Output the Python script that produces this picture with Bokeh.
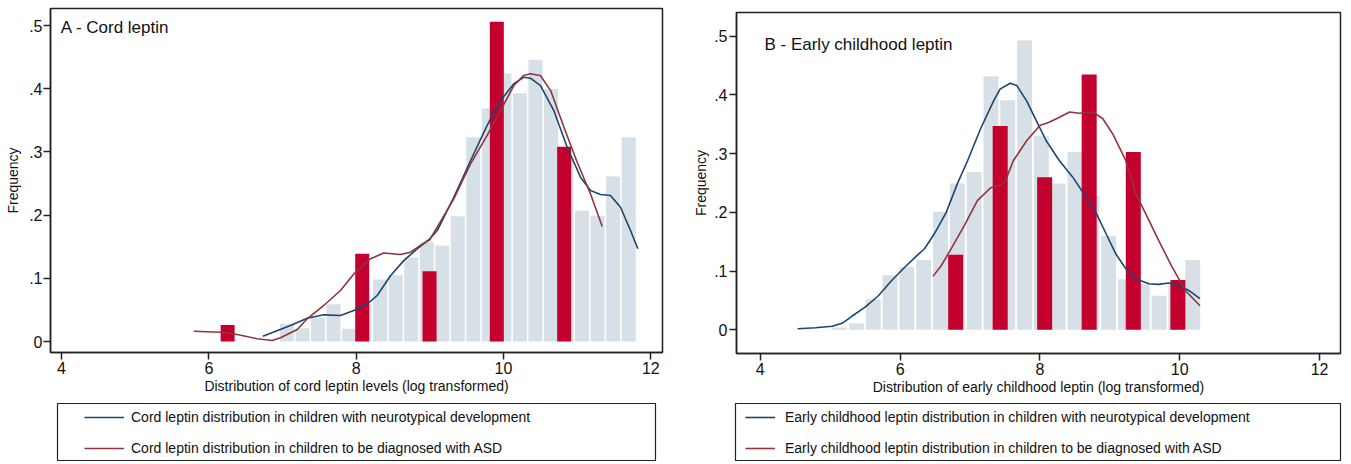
from bokeh.plotting import figure
from bokeh.models import Range1d, FixedTicker, Label, Legend, LegendItem
from bokeh.layouts import row, column
from bokeh.embed import file_html
from bokeh.resources import INLINE

# ---------------- Data: panel A (cord leptin) ----------------
a_gray_x = [7.060, 7.271, 7.482, 7.693, 7.904, 8.114, 8.325, 8.536, 8.747, 8.958, 9.169, 9.379,
            9.590, 9.801, 10.012, 10.223, 10.434, 10.644, 10.855, 11.066, 11.277, 11.488, 11.699]
a_gray_h = [0.028, 0.021, 0.038, 0.059, 0.020, 0.060, 0.098, 0.105, 0.133, 0.157, 0.152, 0.198,
            0.323, 0.369, 0.424, 0.393, 0.446, 0.400, 0.290, 0.207, 0.199, 0.261, 0.323]
a_red_x = [6.255, 7.169, 8.082, 8.996, 9.909, 10.823]
a_red_h = [0.026, 0.0, 0.139, 0.111, 0.506, 0.308]

a_blue_x = [6.733, 7.108, 7.335, 7.56, 7.787, 7.968, 8.15, 8.285, 8.466, 8.646, 8.828, 8.999, 9.1,
            9.325, 9.552, 9.778, 9.959, 10.14, 10.275, 10.366, 10.502, 10.683, 10.864, 11.045,
            11.18, 11.317, 11.452, 11.588, 11.724, 11.823]
a_blue_y = [0.0084, 0.0253, 0.0369, 0.0422, 0.0411, 0.049, 0.0596, 0.0728, 0.104, 0.128, 0.1467,
            0.1625, 0.1756, 0.228, 0.286, 0.342, 0.381, 0.408, 0.418, 0.4166, 0.405, 0.3655, 0.3074,
            0.26, 0.239, 0.2326, 0.231, 0.2125, 0.1756, 0.1467]
a_redline_x = [5.796, 6.158, 6.385, 6.656, 6.86, 6.973, 7.2, 7.335, 7.56, 7.787, 7.968, 8.194, 8.375,
               8.6, 8.737, 8.873, 8.999, 9.1, 9.325, 9.552, 9.778, 9.959, 10.14, 10.275, 10.366,
               10.5, 10.64, 10.82, 11.0, 11.18, 11.34]
a_redline_y = [0.0163, 0.0147, 0.011, 0.0043, 0.0016, 0.0058, 0.019, 0.0359, 0.057, 0.0807, 0.107,
               0.131, 0.14, 0.1377, 0.1413, 0.152, 0.161, 0.181, 0.2258, 0.281, 0.326, 0.3655, 0.405,
               0.421, 0.4236, 0.421, 0.397, 0.339, 0.2837, 0.2337, 0.182]

# ---------------- Data: panel B (early childhood leptin) ----------------
b_gray_x = [5.135, 5.376, 5.616, 5.857, 6.097, 6.338, 6.578, 6.819, 7.059, 7.300, 7.540, 7.781,
            8.021, 8.262, 8.502, 8.743, 8.983, 9.224, 9.464, 9.705, 9.945, 10.186]
b_gray_h = [0.004, 0.011, 0.052, 0.093, 0.107, 0.119, 0.201, 0.249, 0.269, 0.432, 0.391, 0.493,
            0.330, 0.249, 0.303, 0.228, 0.160, 0.086, 0.079, 0.058, 0.075, 0.119]
b_red_x = [6.795, 7.432, 8.068, 8.705, 9.336, 9.974]
b_red_h = [0.128, 0.347, 0.260, 0.435, 0.303, 0.085]

b_blue_x = [4.534, 4.79, 5.03, 5.17, 5.31, 5.50, 5.69, 5.88, 6.07, 6.256, 6.35, 6.49, 6.66, 6.82,
            6.965, 7.15, 7.338, 7.43, 7.574, 7.67, 7.81, 7.95, 8.09, 8.28, 8.47, 8.66, 8.80, 8.945,
            9.087, 9.23, 9.37, 9.56, 9.70, 9.84, 9.985, 10.13, 10.29]
b_blue_y = [0.0017, 0.0034, 0.006, 0.011, 0.023, 0.0385, 0.058, 0.084, 0.107, 0.128, 0.138, 0.1635,
            0.2, 0.249, 0.288, 0.342, 0.39, 0.41, 0.42, 0.416, 0.39, 0.356, 0.322, 0.288, 0.26,
            0.226, 0.2, 0.164, 0.129, 0.104, 0.087, 0.0785, 0.0773, 0.0796, 0.0755, 0.067, 0.053]
b_redline_x = [6.47, 6.59, 6.73, 6.92, 7.106, 7.296, 7.44, 7.5, 7.62, 7.81, 8.0, 8.14, 8.28, 8.425,
               8.567, 8.756, 8.898, 9.04, 9.23, 9.37, 9.513, 9.70, 9.89, 10.08, 10.29]
b_redline_y = [0.091, 0.1095, 0.138, 0.178, 0.22, 0.242, 0.247, 0.252, 0.288, 0.322, 0.348, 0.354,
               0.362, 0.371, 0.369, 0.371, 0.36, 0.334, 0.288, 0.232, 0.198, 0.152, 0.107, 0.067,
               0.041]

x_ticks = [4, 6, 8, 10, 12]
y_ticks = [0, 0.1, 0.2, 0.3, 0.4, 0.5]
y_tick_labels = ["0", ".1", ".2", ".3", ".4", ".5"]

a_title = "A - Cord leptin"
b_title = "B - Early childhood leptin"
a_xlabel = "Distribution of cord leptin levels (log transformed)"
b_xlabel = "Distribution of early childhood leptin (log transformed)"
a_legend = ["Cord leptin distribution in children with neurotypical development",
            "Cord leptin distribution in children to be diagnosed with ASD"]
b_legend = ["Early childhood leptin distribution in children with neurotypical development",
            "Early childhood leptin distribution in children to be diagnosed with ASD"]

# ---------------- Styles ----------------
FONT = "Liberation Sans"
GRAY = "#d6e0e6"
RED_BAR = "#c4002f"
NAVY = "#1a476f"
MAROON = "#90353b"
FRAME = "#222222"
TXT = "#111111"


def style_axes(p, xlabel, ylab_standoff, ylab_label_standoff):
    p.xgrid.visible = False
    p.ygrid.visible = False
    p.outline_line_color = FRAME
    p.outline_line_width = 1.5
    p.background_fill_color = "white"
    p.border_fill_color = "white"
    p.xaxis.ticker = FixedTicker(ticks=x_ticks)
    p.yaxis.ticker = FixedTicker(ticks=y_ticks)
    p.yaxis.major_label_overrides = {t: l for t, l in zip(y_ticks, y_tick_labels)}
    for ax in (p.xaxis[0], p.yaxis[0]):
        ax.axis_line_color = FRAME
        ax.axis_line_width = 1.5
        ax.major_tick_line_color = FRAME
        ax.major_tick_line_width = 1.5
        ax.major_tick_out = 7
        ax.major_tick_in = 0
        ax.minor_tick_line_color = None
        ax.major_label_text_font = FONT
        ax.major_label_text_font_size = "16px"
        ax.major_label_text_color = TXT
        ax.axis_label_text_font = FONT
        ax.axis_label_text_font_size = "14px"
        ax.axis_label_text_font_style = "normal"
        ax.axis_label_text_color = TXT
    p.xaxis.axis_label = xlabel
    p.yaxis.axis_label = "Frequency"
    p.xaxis.major_label_standoff = 2
    p.xaxis.axis_label_standoff = 1
    p.yaxis.major_label_standoff = ylab_standoff
    p.yaxis.axis_label_standoff = ylab_label_standoff


def make_panel(width, height, xr, yr, bl, br, bt, bb, gx, gh, gw, rx, rh, rw,
               bx, by, mx, my, title, tx, ty, xlabel, ls, las):
    p = figure(width=width, height=height, x_range=Range1d(*xr), y_range=Range1d(*yr),
               output_backend="svg", toolbar_location=None, frame_align=False,
               min_border_left=bl, min_border_right=br, min_border_top=bt, min_border_bottom=bb)
    p.vbar(x=gx, top=gh, width=gw, bottom=0, fill_color=GRAY, line_color=None)
    p.vbar(x=rx, top=rh, width=rw, bottom=0, fill_color=RED_BAR, line_color=None)
    p.line(bx, by, line_color=NAVY, line_width=1.6)
    p.line(mx, my, line_color=MAROON, line_width=1.6)
    p.add_layout(Label(x=tx, y=ty, text=title, text_font=FONT, text_font_size="17px",
                       text_color=TXT, text_baseline="middle", text_align="left"))
    style_axes(p, xlabel, ls, las)
    return p


def make_legend(width, height, bl, br, labels, loc, glyph_w, standoff):
    lg = figure(width=width, height=height, x_range=Range1d(0, 1), y_range=Range1d(0, 1),
                output_backend="svg", toolbar_location=None, frame_align=False,
                min_border_left=bl, min_border_right=br, min_border_top=1, min_border_bottom=1,
                x_axis_type=None, y_axis_type=None)
    lg.xgrid.visible = False
    lg.ygrid.visible = False
    lg.outline_line_color = FRAME
    lg.outline_line_width = 1.2
    # legend-only renderers, kept outside the visible range
    r1 = lg.line(x=[5, 6], y=[5, 5], line_color=NAVY, line_width=1.6)
    r2 = lg.line(x=[5, 6], y=[6, 6], line_color=MAROON, line_width=1.6)
    leg = Legend(items=[LegendItem(label=labels[0], renderers=[r1]),
                        LegendItem(label=labels[1], renderers=[r2])],
                 location=loc, orientation="vertical")
    leg.border_line_alpha = 0
    leg.background_fill_alpha = 0
    leg.padding = 0
    leg.margin = 0
    leg.spacing = 15
    leg.label_height = 16
    leg.glyph_height = 16
    leg.glyph_width = glyph_w
    leg.label_standoff = standoff
    leg.label_text_font = FONT
    leg.label_text_font_size = "14px"
    leg.label_text_color = TXT
    lg.add_layout(leg)
    return lg


# Panel A: frame x 50..662, y 8..352 ; Panel B: frame x 730..1340, y 12..353
pA = make_panel(690, 402, (3.8507, 12.158), (-0.0174, 0.5269), 50, 28, 8, 50,
                a_gray_x, a_gray_h, 0.19, a_red_x, a_red_h, 0.19,
                a_blue_x, a_blue_y, a_redline_x, a_redline_y,
                a_title, 3.99, 0.497, a_xlabel, 1, 5)
pB = make_panel(658, 402, (3.66, 12.30), (-0.0404, 0.5405), 40, 8, 12, 49,
                b_gray_x, b_gray_h, 0.213, b_red_x, b_red_h, 0.215,
                b_blue_x, b_blue_y, b_redline_x, b_redline_y,
                b_title, 4.06, 0.486, b_xlabel, 2, 2)

legA = make_legend(690, 59, 57, 35, a_legend, (27, 4), 40, 7)
legB = make_legend(658, 59, 45, 8, b_legend, (10, 4), 30, 10)

layout = row(column(pA, legA), column(pB, legB))

open("out.html", "w").write(file_html(layout, INLINE))
